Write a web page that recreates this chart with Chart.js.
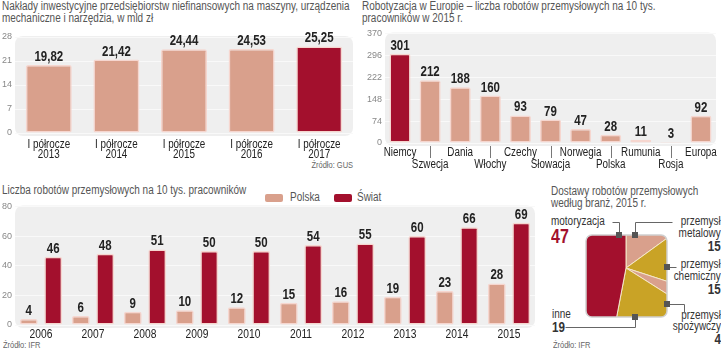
<!DOCTYPE html>
<html>
<head>
<meta charset="utf-8">
<script src="https://cdn.jsdelivr.net/npm/chart.js@4.4.0/dist/chart.umd.min.js"></script>
<style>
  body { margin: 0; background: #fff; }
  #page { position: relative; width: 721px; height: 351px; overflow: hidden;
    font-family: "Liberation Sans", Arial, sans-serif; color: #222; }
  canvas { position: absolute; }
  .t { position: absolute; white-space: nowrap; font-size: 12px; line-height: 12px;
    transform: scaleX(0.83); transform-origin: 0 0; }
  .r { right: 0; text-align: right; transform-origin: 100% 0; }
  .title { color: #555; }
  .src { font-size: 9px; line-height: 10px; color: #666; }
  .b { font-weight: bold; font-size: 14px; line-height: 14px; }
  .sw { position: absolute; width: 18px; height: 8px; border-radius: 2px; }
</style>
</head>
<body>
<div id="page">
  <div class="t title" style="left:2px;top:0">Nakłady inwestycyjne przedsiębiorstw niefinansowych na maszyny, urządzenia<br>mechaniczne i narzędzia, w mld zł</div>
  <div class="t title" style="left:362px;top:0">Robotyzacja w Europie – liczba robotów przemysłowych na 10 tys.<br>pracowników w 2015 r.</div>
  <div class="t src r" style="right:368px;top:160px">Źródło: GUS</div>

  <div class="t title" style="left:2px;top:184px">Liczba robotów przemysłowych na 10 tys. pracowników</div>
  <div class="sw" style="left:265px;top:194px;background:#d9a08c"></div>
  <div class="t title" style="left:290px;top:191px">Polska</div>
  <div class="sw" style="left:334px;top:194px;background:#a3102d"></div>
  <div class="t title" style="left:357px;top:191px">Świat</div>
  <div class="t src" style="left:3px;top:340px">Źródło: IFR</div>

  <div class="t title" style="left:551px;top:185px">Dostawy robotów przemysłowych<br>według branż, 2015 r.</div>
  <div class="t" style="left:551px;top:215px;color:#333">motoryzacja</div>
  <div class="t" style="left:551px;top:226px;font-weight:bold;font-size:20px;line-height:20px;color:#a3102d;transform:scaleX(0.8)">47</div>
  <div class="t r" style="top:215px;color:#333">przemysł<br>metalowy<br><span class="b">15</span></div>
  <div class="t r" style="top:258px;color:#333">przemysł<br>chemiczny<br><span class="b">15</span></div>
  <div class="t r" style="top:310px;color:#333;line-height:11px">przemysł<br>spożywczy<br><span class="b">4</span></div>
  <div class="t" style="left:552px;top:309px;color:#333;line-height:11px">inne<br><span class="b">19</span></div>
  <div class="t src" style="left:553px;top:340px">Źródło: IFR</div>

  <canvas id="c1" width="360" height="150" style="left:0;top:25px"></canvas>
  <canvas id="c2" width="361" height="150" style="left:360px;top:25px"></canvas>
  <canvas id="c3" width="548" height="153" style="left:0;top:198px"></canvas>
  <canvas id="c4" width="173" height="168" style="left:548px;top:183px"></canvas>
</div>

<script>
  // ---------- dane ----------
  const halfYears = ['2013', '2014', '2015', '2016', '2017'];
  const invest = [19.82, 21.42, 24.44, 24.53, 25.25];

  const countries = ['Niemcy', 'Szwecja', 'Dania', 'Włochy', 'Czechy', 'Słowacja',
    'Norwegia', 'Polska', 'Rumunia', 'Rosja', 'Europa'];
  const robotsEU = [301, 212, 188, 160, 93, 79, 47, 28, 11, 3, 92];

  const years = ['2006', '2007', '2008', '2009', '2010', '2011', '2012', '2013', '2014', '2015'];
  const polska = [4, 6, 9, 10, 12, 15, 16, 19, 23, 28];
  const swiat = [46, 48, 51, 50, 50, 54, 55, 60, 66, 69];

  const branches = ['przemysł metalowy', 'przemysł chemiczny', 'przemysł spożywczy', 'inne', 'motoryzacja'];
  const branchShare = [15, 15, 4, 19, 47];

  // ---------- style ----------
  const FONT = '"Liberation Sans", Arial, sans-serif';
  const SQUEEZE = 0.82;
  const SALMON = '#d9a08c';
  const RED = '#a3102d';
  const GOLD = '#c9a326';
  const EDGE = 'rgba(246,212,204,0.95)';

  // tekst zwężony (brak kroju "narrow")
  let narrowText = (ctx, t, x, y) => {
    ctx.save();
    ctx.translate(x, y);
    ctx.scale(SQUEEZE, 1);
    ctx.fillText(t, 0, 0);
    ctx.restore();
  };

  let panel = {
    id: 'panel',
    beforeDraw(chart) {
      let { ctx, chartArea: a } = chart;
      ctx.save();
      ctx.fillStyle = '#efefef';
      ctx.beginPath();
      ctx.roundRect(a.left, a.top - 1, a.right - a.left, a.bottom - a.top + 4, 8);
      ctx.fill();
      ctx.restore();
    }
  };

  let values = {
    id: 'values',
    afterDatasetsDraw(chart, args, opts) {
      let ctx = chart.ctx;
      ctx.save();
      ctx.font = 'bold 14px ' + FONT;
      ctx.fillStyle = '#222';
      ctx.textAlign = 'center';
      ctx.textBaseline = 'alphabetic';
      chart.data.datasets.forEach((ds, di) => {
        chart.getDatasetMeta(di).data.forEach((bar, i) => {
          let v = ds.data[i];
          let txt = opts.decimals ? v.toFixed(2).replace('.', ',') : String(v);
          narrowText(ctx, txt, bar.x, bar.y - 4);
        });
      });
      ctx.restore();
    }
  };

  let xLabels = {
    id: 'xLabels',
    afterDraw(chart, args, opts) {
      let { ctx, chartArea: a, scales: { x } } = chart;
      ctx.save();
      ctx.font = opts.size + 'px ' + FONT;
      ctx.fillStyle = '#222';
      ctx.textAlign = 'center';
      ctx.textBaseline = 'alphabetic';
      chart.data.labels.forEach((lab, i) => {
        [].concat(lab).forEach((t, j) => {
          narrowText(ctx, t, x.getPixelForTick(i), a.bottom + opts.first + j * opts.gap);
        });
      });
      ctx.restore();
    }
  };

  let yAxis = (max, step, width) => ({
    min: 0, max,
    ticks: { stepSize: step, color: '#888', font: { size: 9, family: FONT }, padding: 3 },
    grid: { color: '#f9f9f9', drawTicks: false },
    border: { display: false },
    afterFit(s) { s.width = width; }
  });

  let xAxis = height => ({
    grid: { display: false },
    border: { display: false },
    ticks: { display: false },
    afterFit(s) { s.height = height; }
  });

  let base = (x, y, padding, labels) => ({
    responsive: false,
    animation: false,
    layout: { padding },
    plugins: { legend: { display: false }, tooltip: { enabled: false }, values: {}, xLabels: labels },
    scales: { x, y }
  });

  /* ==================== NAKŁADY ==================== */

  let o1 = base(xAxis(42), yAxis(28, 7, 15), { top: 12, right: 7, left: 0, bottom: 0 },
    { size: 12, first: 15, gap: 10 });
  o1.plugins.values = { decimals: true };
  new Chart(document.getElementById('c1'), {
    type: 'bar',
    data: {
      labels: halfYears.map(y => ['I półrocze', y]),
      datasets: [{
        data: invest,
        backgroundColor: invest.map((v, i) => i == invest.length - 1 ? RED : SALMON),
        borderColor: EDGE, borderWidth: 1.5, borderSkipped: false, borderRadius: 2,
        categoryPercentage: 1, barPercentage: 0.68
      }]
    },
    options: o1,
    plugins: [panel, values, xLabels]
  });

  /* ==================== EUROPA ==================== */

  let tickMarks = {
    id: 'tickMarks',
    afterDraw(chart) {
      let { ctx, chartArea: a, scales } = chart;
      ctx.save();
      ctx.strokeStyle = '#777';
      ctx.lineWidth = 1;
      countries.forEach((c, i) => {
        if (i % 2 == 0) return;
        let x = Math.round(scales.x.getPixelForTick(i)) + 0.5;
        ctx.beginPath();
        ctx.moveTo(x, a.bottom + 3);
        ctx.lineTo(x, a.bottom + 15);
        ctx.stroke();
      });
      ctx.restore();
    }
  };

  let o2 = base(xAxis(32), yAxis(370, 74, 25), { top: 8, right: 5, left: 0, bottom: 0 },
    { size: 12, first: 13, gap: 12 });
  new Chart(document.getElementById('c2'), {
    type: 'bar',
    data: {
      labels: countries.map((c, i) => i % 2 ? ['', c] : [c]),
      datasets: [{
        data: robotsEU,
        backgroundColor: robotsEU.map((v, i) => i == 0 ? RED : SALMON),
        borderColor: EDGE, borderWidth: 1.5, borderSkipped: false, borderRadius: 2,
        categoryPercentage: 1, barPercentage: 0.7
      }]
    },
    options: o2,
    plugins: [panel, values, tickMarks, xLabels]
  });

  /* ==================== POLSKA / ŚWIAT ==================== */

  let o3 = base(xAxis(26), yAxis(80, 20, 15), { top: 7, right: 13, left: 0, bottom: 0 },
    { size: 12.5, first: 13, gap: 12 });
  new Chart(document.getElementById('c3'), {
    type: 'bar',
    data: {
      labels: years,
      datasets: [
        { label: 'Polska', data: polska, backgroundColor: SALMON },
        { label: 'Świat', data: swiat, backgroundColor: RED }
      ].map(d => Object.assign(d, {
        borderColor: EDGE, borderWidth: 1.5, borderSkipped: false, borderRadius: 2,
        categoryPercentage: 0.94, barPercentage: 0.73
      }))
    },
    options: o3,
    plugins: [panel, values, xLabels]
  });

  /* ==================== BRANŻE ==================== */

  let boxOf = arc => ({ x: arc.x - 40, y: arc.y - 33, w: 81, h: 82 });

  let squarePie = {
    id: 'squarePie',
    beforeDatasetsDraw(chart) {
      let ctx = chart.ctx;
      let b = boxOf(chart.getDatasetMeta(0).data[0]);
      ctx.save();
      ctx.beginPath();
      ctx.roundRect(b.x, b.y, b.w, b.h, 6);
      ctx.clip();
    },
    afterDatasetsDraw(chart) {
      let ctx = chart.ctx;
      ctx.restore();
      let b = boxOf(chart.getDatasetMeta(0).data[0]);
      let r = b.x + b.w, bt = b.y + b.h;

      ctx.save();
      ctx.strokeStyle = '#cfcfcf';
      ctx.lineWidth = 1.5;
      ctx.beginPath();
      ctx.roundRect(b.x, b.y, b.w, b.h, 6);
      ctx.stroke();

      // linie odnośników
      let leaders = [
        { sq: [b.x + 33, b.y], path: [[b.x + 33, b.y], [b.x + 33, b.y - 13], [b.x + 26, b.y - 13]] },
        { sq: [b.x + 49, b.y], path: [[b.x + 49, b.y], [b.x + 49, b.y - 13], [b.x + 86, b.y - 13]] },
        { sq: [r, b.y + 32], path: [[r, b.y + 32], [r + 9, b.y + 32]] },
        { sq: [r, b.y + 69], path: [[r, b.y + 69], [r + 17, b.y + 69], [r + 17, b.y + 78]] },
        { sq: [b.x + 49, bt], path: [[b.x + 49, bt], [b.x + 49, bt + 10], [b.x - 21, bt + 10]] }
      ];
      ctx.strokeStyle = '#666';
      ctx.lineWidth = 1;
      ctx.fillStyle = '#555';
      leaders.forEach(({ sq, path }) => {
        ctx.beginPath();
        path.forEach(([x, y], i) => i ? ctx.lineTo(Math.round(x) + 0.5, Math.round(y) + 0.5)
                                      : ctx.moveTo(Math.round(x) + 0.5, Math.round(y) + 0.5));
        ctx.stroke();
        ctx.fillRect(Math.round(sq[0]) - 3, Math.round(sq[1]) - 3, 6, 6);
      });
      ctx.restore();
    }
  };

  new Chart(document.getElementById('c4'), {
    type: 'pie',
    data: {
      labels: branches,
      datasets: [{
        data: branchShare,
        backgroundColor: [SALMON, GOLD, SALMON, GOLD, RED],
        borderColor: '#f4e7c9',
        borderWidth: 1
      }]
    },
    options: {
      responsive: false,
      animation: false,
      layout: { padding: { left: 12, top: 19, right: 29, bottom: 17 } },
      plugins: { legend: { display: false }, tooltip: { enabled: false } }
    },
    plugins: [squarePie]
  });
</script>
</body>
</html>
